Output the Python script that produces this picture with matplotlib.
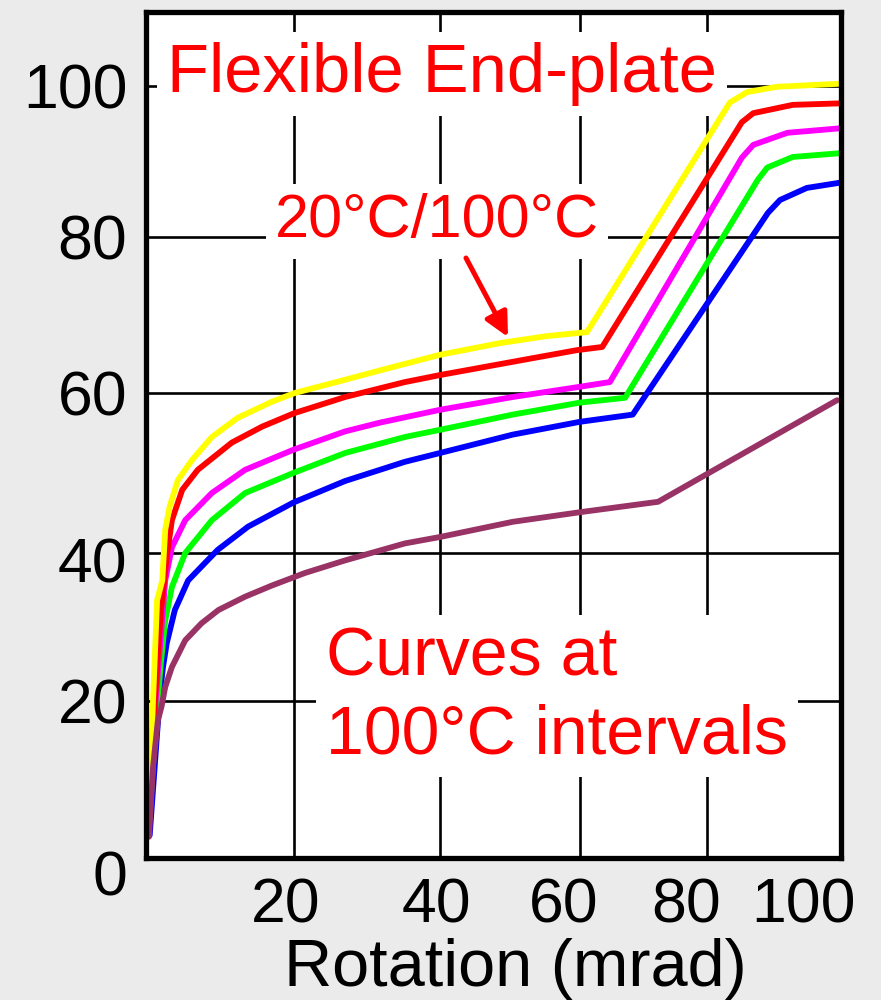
import numpy as np
import matplotlib
matplotlib.use("Agg")
import matplotlib.pyplot as plt
from matplotlib.transforms import ScaledTranslation

plt.rcParams['font.family'] = ['Liberation Sans', 'DejaVu Sans']

# rotation (mrad) and moment, one pair per temperature
rot_100 = [0.3, 0.95, 1.5, 2.2, 2.6, 3.2, 4.3, 6.2, 8.9, 12.4, 17.0, 20.1, 27.0, 31.8,
           40.0, 48.6, 55.3, 61.1, 83.4, 86.0, 90.5, 99.9]
mom_100 = [3.3, 20.1, 33.6, 36.3, 42.9, 45.8, 49.1, 51.6, 54.5, 56.9, 58.9, 60.0, 61.7, 62.9,
           64.9, 66.4, 67.3, 67.8, 97.8, 99.2, 99.9, 100.3]

rot_200 = [0.3, 1.2, 2.0, 2.8, 3.5, 4.9, 7.0, 11.6, 15.7, 20.1, 27.0, 35.2, 40.0, 50.4,
           59.6, 63.5, 85.2, 86.9, 92.8, 99.9]
mom_200 = [3.0, 20.0, 32.0, 39.5, 44.1, 47.9, 50.4, 53.8, 55.8, 57.5, 59.5, 61.4, 62.3, 64.0,
           65.5, 65.9, 95.2, 96.4, 97.5, 97.7]

rot_300 = [0.3, 1.3, 2.1, 2.6, 3.5, 5.3, 8.9, 13.4, 19.9, 27.0, 31.8, 40.0, 50.4, 60.0,
           64.7, 85.2, 86.9, 92.0, 99.9]
mom_300 = [3.0, 20.0, 30.0, 36.3, 40.7, 44.1, 47.5, 50.4, 52.9, 55.2, 56.3, 57.9, 59.5, 60.8,
           61.4, 90.5, 92.2, 93.8, 94.4]

rot_400 = [0.3, 1.4, 2.0, 2.6, 3.5, 5.3, 8.9, 13.4, 19.9, 27.0, 35.2, 40.0, 50.4, 60.0,
           67.1, 87.6, 89.0, 92.8, 99.9]
mom_400 = [3.0, 18.0, 25.0, 30.9, 35.4, 40.0, 44.1, 47.5, 50.0, 52.5, 54.5, 55.4, 57.3, 58.8,
           59.4, 87.6, 89.2, 90.6, 91.1]

rot_500 = [0.5, 1.9, 2.3, 2.8, 3.9, 5.7, 8.4, 9.7, 13.8, 19.9, 27.0, 35.2, 40.0, 50.4,
           60.0, 68.3, 89.1, 90.9, 94.9, 99.9]
mom_500 = [2.9, 21.1, 24.6, 27.8, 32.3, 36.3, 39.1, 40.4, 43.3, 46.3, 49.0, 51.4, 52.5, 54.8,
           56.4, 57.3, 83.2, 84.9, 86.5, 87.2]

rot_600 = [0.4, 0.95, 1.6, 2.1, 2.6, 3.5, 5.3, 7.5, 9.8, 13.4, 17.0, 21.5, 27.0, 35.2,
           40.0, 50.4, 60.0, 72.3, 99.4]
mom_600 = [2.7, 11.6, 17.5, 19.3, 21.9, 24.6, 28.2, 30.5, 32.3, 34.1, 35.6, 37.3, 39.0, 41.2,
           42.0, 43.9, 45.1, 46.4, 59.1]

x_ticks = [20, 40, 60, 80, 100]
y_ticks = [0, 20, 40, 60, 80, 100]

# the gridlines in the picture are not evenly spaced, so use a piecewise scale
x_nodes = [0, 20, 40, 60, 80, 100]
x_pos = [0, 148, 294, 434, 561, 695]
y_nodes = [0, 20, 40, 60, 80, 100, 120]
y_pos = [0, 157, 305, 465, 621, 772, 923]


def x_fwd(v):
    return np.interp(v, x_nodes, x_pos)


def x_inv(v):
    return np.interp(v, x_pos, x_nodes)


def y_fwd(v):
    return np.interp(v, y_nodes, y_pos)


def y_inv(v):
    return np.interp(v, y_pos, y_nodes)


fig = plt.figure(figsize=(8.81, 10), dpi=100, facecolor='#ebebeb')
ax = fig.add_axes([146 / 881, 142 / 1000, 695 / 881, 846 / 1000])
ax.set_facecolor('white')
ax.set_xscale('function', functions=(x_fwd, x_inv))
ax.set_yscale('function', functions=(y_fwd, y_inv))

curves = [
    (rot_500, mom_500, '#0000ff'),
    (rot_400, mom_400, '#00ff00'),
    (rot_300, mom_300, '#ff00ff'),
    (rot_200, mom_200, '#ff0000'),
    (rot_100, mom_100, '#ffff00'),
    (rot_600, mom_600, '#993366'),
]
for rot, mom, col in curves:
    ax.plot(rot, mom, color=col, lw=4.2, solid_capstyle='round',
            solid_joinstyle='round', zorder=4)

ax.set_xlim(0, 100)
ax.set_ylim(0, 109.8)
ax.set_xticks(x_ticks)
ax.set_xticklabels([str(t) for t in x_ticks])
ax.set_yticks(y_ticks)
ax.set_yticklabels([str(t) for t in y_ticks])
ax.grid(True, color='black', lw=1.9)
ax.tick_params(length=0, labelsize=45, pad=13.5, colors='black')
for s in ax.spines.values():
    s.set_linewidth(3.8)
    s.set_color('black')
    s.set_zorder(5)

# tick labels in the picture sit a little off their gridlines
x_shift = [-8, -4, -16, -21, -38]
for lab, dx in zip(ax.get_xticklabels(), x_shift):
    lab.set_transform(lab.get_transform() + ScaledTranslation(dx / 100, 0, fig.dpi_scale_trans))
y_shift = [-15, 0, -7, 0, 0, 0]
for lab, dy in zip(ax.get_yticklabels(), y_shift):
    lab.set_transform(lab.get_transform() + ScaledTranslation(0, dy / 100, fig.dpi_scale_trans))

fig.text(515 / 881, 1 - 986 / 1000, 'Rotation (mrad)', fontsize=48,
         ha='center', va='baseline')

box = dict(facecolor='white', edgecolor='none', boxstyle='square,pad=0.15')
ax.text(167 / 881, 1 - 92 / 1000, 'Flexible End-plate', fontsize=49.5, color='red',
        ha='left', va='baseline', bbox=box, zorder=3, transform=fig.transFigure,
        clip_on=False)
ax.text(275 / 881, 1 - 237 / 1000, '20°C/100°C', fontsize=44, color='red',
        ha='left', va='baseline', bbox=box, zorder=3, transform=fig.transFigure,
        clip_on=False)
ax.text(326 / 881, 1 - 753 / 1000, 'Curves at\n100°C intervals', fontsize=49, color='red',
        ha='left', va='baseline', linespacing=1.27, bbox=box, zorder=3,
        transform=fig.transFigure, clip_on=False)

ax.annotate('', xy=(508 / 881, 1 - 337 / 1000), xytext=(466 / 881, 1 - 258 / 1000),
            xycoords='figure fraction', textcoords='figure fraction',
            arrowprops=dict(arrowstyle='-|>', color='red', lw=3.6,
                            mutation_scale=36, shrinkA=0, shrinkB=0))

fig.savefig('out.png', dpi=100, facecolor=fig.get_facecolor())
